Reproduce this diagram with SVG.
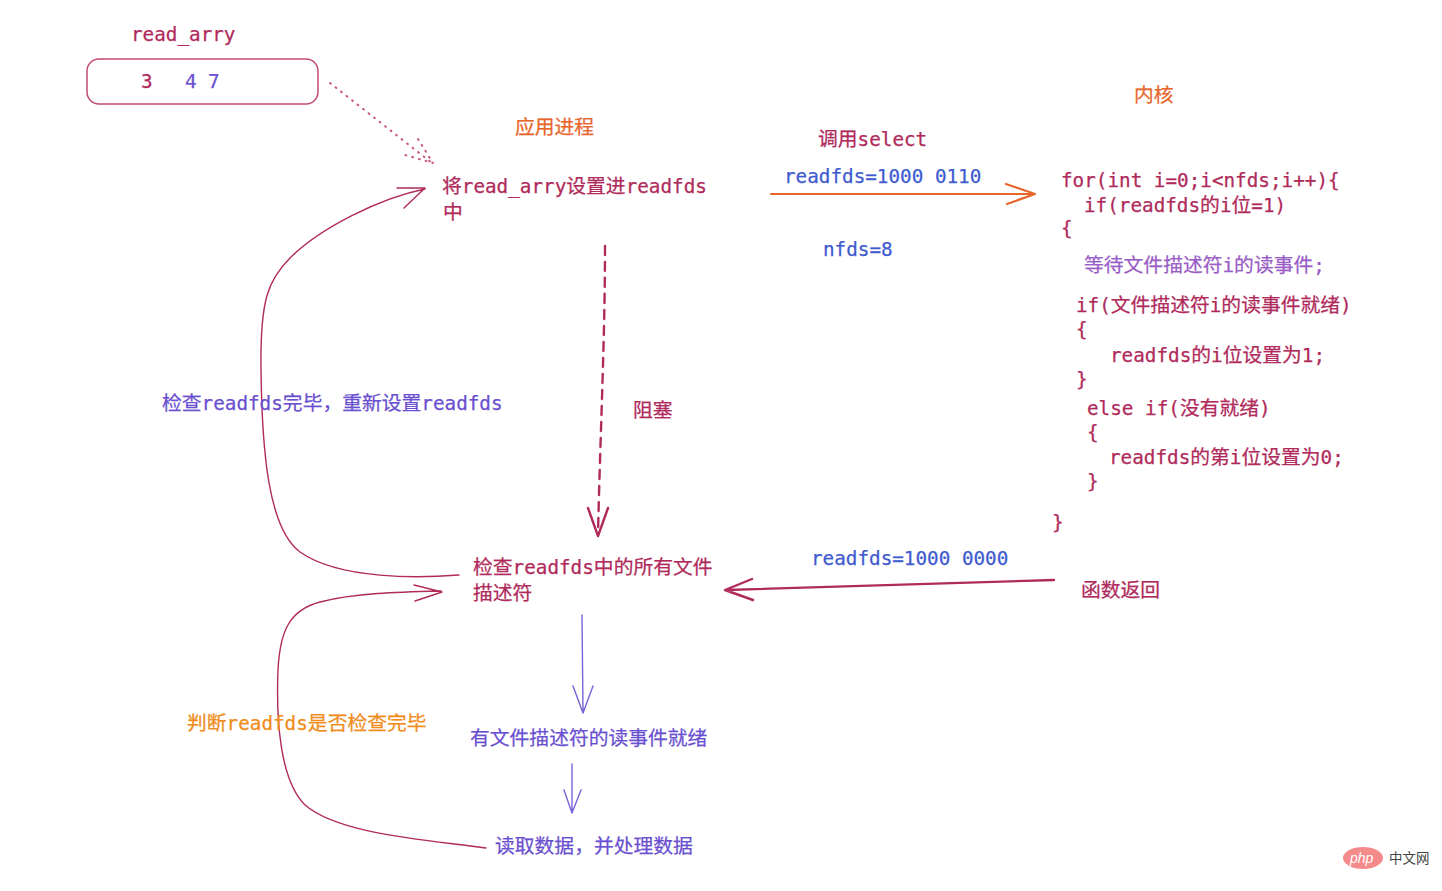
<svg xmlns="http://www.w3.org/2000/svg" width="1442" height="891" viewBox="0 0 1442 891">
<style>
text{font-family:"DejaVu Sans Mono","Noto Sans CJK SC",monospace;font-size:19.3px;fill:#b02a5b;stroke:#b02a5b;stroke-width:.25}
tspan.c{font-size:19.8px}
.v{fill:#6a4fd0;stroke:#6a4fd0}.b{fill:#3f5bd0;stroke:#3f5bd0}.o{fill:#e8662c;stroke:#e8662c}.y{fill:#f08c1a;stroke:#f08c1a}.p{fill:#9a5cc6;stroke:#9a5cc6}
.l{fill:none;stroke-linecap:round;stroke-linejoin:round}
.r{stroke:#b02a5b;stroke-width:1.4}.vl{stroke:#7a62d8;stroke-width:1.4}
</style>
<rect width="1442" height="891" fill="#fff"/>
<g id="connectors">
<path class="l" d="M330 83L432 163M418 139L433 163L405 155" stroke="#c9567f" stroke-width="2" stroke-dasharray="1 6"/>
<path class="l r" d="M459 575C420 578 340 580 300 552C268 528 262 450 261 370C260 300 268 280 290 258C320 228 380 198 425 189M397 188L425 188L404 208"/>
<path class="l" d="M605 246C605 340 600 440 598 535" stroke="#b02a5b" stroke-width="2.4" stroke-dasharray="9 7"/>
<path class="l" d="M588 508L598 536L608 508" stroke="#b02a5b" stroke-width="2.4"/>
<path class="l" d="M771 194L1034 194M1006 184L1035 194L1007 204" stroke="#e8662c" stroke-width="2.2"/>
<path class="l" d="M1054 580L726 590M752 579L725 590L753 600" stroke="#b02a5b" stroke-width="2.4"/>
<path class="l r" d="M486 848C430 840 340 835 305 805C280 780 276 720 278 670C280 630 290 610 320 602C355 593 400 592 441 591M414 585L442 592L415 601"/>
<path class="l vl" d="M582 615L583 712M573 686L583 713L593 686"/>
<path class="l vl" d="M572 764L572 812M564 790L572 813L581 790"/>
</g>
<g id="read_arry"><text x="131" y="41">read_arry</text>
<rect x="87" y="59" width="231" height="45" rx="12" fill="none" stroke="#c24a75" stroke-width="1.5"/>
<text x="141" y="88">3</text><text x="185" y="88" class="v">4</text><text x="208" y="88" class="v">7</text></g>
<g id="app"><text x="515" y="134" class="o"><tspan class="c">应用进程</tspan></text></g>
<g id="kernel"><text x="1134" y="102" class="o"><tspan class="c">内核</tspan></text></g>
<g id="call"><text x="818" y="146"><tspan class="c">调用</tspan>select</text><text x="784" y="183" class="b">readfds=1000 0110</text><text x="823" y="256" class="b">nfds=8</text></g>
<g id="set"><text x="442" y="193"><tspan class="c">将</tspan>read_arry<tspan class="c">设置进</tspan>readfds</text><text x="443" y="219"><tspan class="c">中</tspan></text></g>
<g id="block"><text x="633" y="417"><tspan class="c">阻塞</tspan></text></g>
<g id="code">
<text x="1061" y="187">for(int i=0;i&lt;nfds;i++){</text>
<text x="1084" y="212">if(readfds<tspan class="c">的</tspan>i<tspan class="c">位</tspan>=1)</text>
<text x="1061" y="235">{</text>
<text x="1084" y="272" class="p"><tspan class="c">等待文件描述符</tspan>i<tspan class="c">的读事件</tspan>;</text>
<text x="1076" y="312">if(<tspan class="c">文件描述符</tspan>i<tspan class="c">的读事件就绪</tspan>)</text>
<text x="1076" y="336">{</text>
<text x="1110" y="362">readfds<tspan class="c">的</tspan>i<tspan class="c">位设置为</tspan>1;</text>
<text x="1076" y="386">}</text>
<text x="1087" y="415">else if(<tspan class="c">没有就绪</tspan>)</text>
<text x="1087" y="439">{</text>
<text x="1109" y="464">readfds<tspan class="c">的第</tspan>i<tspan class="c">位设置为</tspan>0;</text>
<text x="1087" y="488">}</text>
<text x="1052" y="529">}</text></g>
<g id="check"><text x="473" y="574"><tspan class="c">检查</tspan>readfds<tspan class="c">中的所有文件</tspan></text><text x="473" y="600"><tspan class="c">描述符</tspan></text></g>
<g id="ret"><text x="811" y="565" class="b">readfds=1000 0000</text><text x="1081" y="597"><tspan class="c">函数返回</tspan></text></g>
<g id="reset"><text x="162" y="410" class="v"><tspan class="c">检查</tspan>readfds<tspan class="c">完毕，重新设置</tspan>readfds</text></g>
<g id="judge"><text x="187" y="730" class="y"><tspan class="c">判断</tspan>readfds<tspan class="c">是否检查完毕</tspan></text></g>
<g id="ready"><text x="470" y="745" class="v"><tspan class="c">有文件描述符的读事件就绪</tspan></text></g>
<g id="read"><text x="495" y="853" class="v"><tspan class="c">读取数据，并处理数据</tspan></text></g>
<g id="watermark"><ellipse cx="1363" cy="858" rx="20" ry="11" fill="#f58a8a"/><text x="1350" y="863" style="font-family:'Liberation Sans',sans-serif;font-size:14px;font-style:italic;fill:#fff;stroke:none">php</text><text x="1389" y="863" style="font-family:'Noto Sans CJK SC',sans-serif;font-size:13.5px;fill:#444;stroke:none">中文网</text></g>
</svg>
